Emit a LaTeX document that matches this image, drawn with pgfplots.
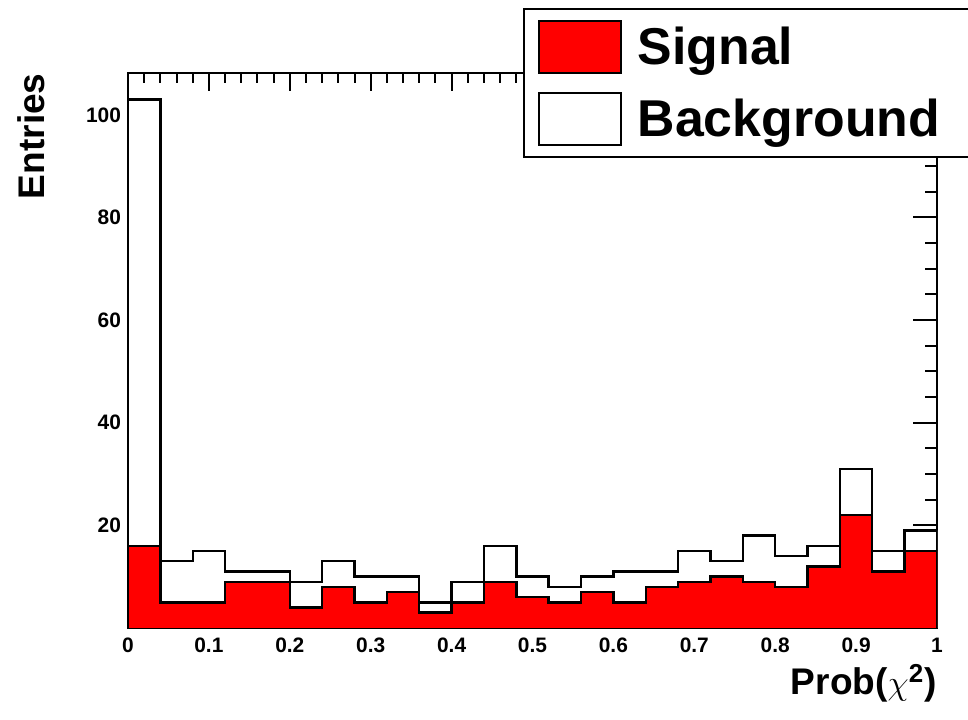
\documentclass[border=0pt]{standalone}
\usepackage{fontspec}
\setmainfont{Liberation Sans}
\usepackage{pgfplots}
\pgfplotsset{compat=1.18}
\definecolor{rootred}{RGB}{255,0,0}
\begin{document}
\begin{tikzpicture}
\path[use as bounding box] (0,0) rectangle (484bp,360bp);
\begin{axis}[
  at={(64bp,46bp)}, anchor=south west,
  scale only axis, width=404.5bp, height=277.5bp,
  xmin=0, xmax=1, ymin=0, ymax=108.15,
  xtick={0,0.1,0.2,0.3,0.4,0.5,0.6,0.7,0.8,0.9,1},
  xticklabels={0,0.1,0.2,0.3,0.4,0.5,0.6,0.7,0.8,0.9,1},
  ytick={20,40,60,80,100},
  yticklabels={20,40,60,80,100},
  minor x tick num=4,
  minor y tick num=3,
  tick align=inside,
  tick pos=both,
  xtick style={/pgfplots/major tick length=9bp,/pgfplots/minor tick length=5bp, line width=1bp, black},
  ytick style={/pgfplots/major tick length=12bp,/pgfplots/minor tick length=6bp, line width=1bp, black},
  axis line style={line width=1bp},
  tick label style={font=\fontsize{10.5}{12}\selectfont\bfseries},
  xticklabel style={yshift=-1.5bp},
  label style={font=\fontsize{18.6}{21}\selectfont\bfseries},
  xlabel={Prob(\(\chi\)\textsuperscript{2})},
  ylabel={Entries},
  xlabel style={at={(axis description cs:1,-0.1207)}, anchor=base east, inner sep=0pt},
  ylabel style={at={(axis description cs:-0.1026,1)}, anchor=base east, inner sep=0pt},
  legend image code/.code={\draw[#1] (0bp,-13bp) rectangle (41bp,13bp);},
  legend style={at={(axis description cs:0.488,1.117)}, anchor=north west,
    draw=black, line width=1bp, inner xsep=7bp, inner ysep=5.5bp, row sep=9bp,
    font=\fontsize{26}{28}\selectfont\bfseries, cells={anchor=west},
    nodes={inner ysep=0pt},
    /tikz/every odd column/.append style={column sep=6bp}},
]
% Background (total)
\addplot[const plot, fill=white, draw=none, forget plot] coordinates {
(0,103) (0.04,13) (0.08,15) (0.12,11) (0.16,11) (0.20,9) (0.24,13) (0.28,10) (0.32,10) (0.36,5)
(0.40,9) (0.44,16) (0.48,10) (0.52,8) (0.56,10) (0.60,11) (0.64,11) (0.68,15) (0.72,13) (0.76,18)
(0.80,14) (0.84,16) (0.88,31) (0.92,15) (0.96,19) (1,19)} \closedcycle;
\addplot[const plot, draw=black, line width=1.2bp, forget plot] coordinates {
(0,0) (0,103) (0.04,13) (0.08,15) (0.12,11) (0.16,11) (0.20,9) (0.24,13) (0.28,10) (0.32,10) (0.36,5)
(0.40,9) (0.44,16) (0.48,10) (0.52,8) (0.56,10) (0.60,11) (0.64,11) (0.68,15) (0.72,13) (0.76,18)
(0.80,14) (0.84,16) (0.88,31) (0.92,15) (0.96,19) (1,19) (1,0)};
% Signal
\addplot[const plot, fill=rootred, draw=none, forget plot] coordinates {
(0,16) (0.04,5) (0.08,5) (0.12,9) (0.16,9) (0.20,4) (0.24,8) (0.28,5) (0.32,7) (0.36,3)
(0.40,5) (0.44,9) (0.48,6) (0.52,5) (0.56,7) (0.60,5) (0.64,8) (0.68,9) (0.72,10) (0.76,9)
(0.80,8) (0.84,12) (0.88,22) (0.92,11) (0.96,15) (1,15)} \closedcycle;
\addplot[const plot, draw=black, line width=1.2bp, forget plot] coordinates {
(0,0) (0,16) (0.04,5) (0.08,5) (0.12,9) (0.16,9) (0.20,4) (0.24,8) (0.28,5) (0.32,7) (0.36,3)
(0.40,5) (0.44,9) (0.48,6) (0.52,5) (0.56,7) (0.60,5) (0.64,8) (0.68,9) (0.72,10) (0.76,9)
(0.80,8) (0.84,12) (0.88,22) (0.92,11) (0.96,15) (1,15) (1,0)};
\addlegendimage{fill=rootred, draw=black, line width=1bp}
\addlegendentry{Signal}
\addlegendimage{fill=white, draw=black, line width=1bp}
\addlegendentry{\makebox[160bp][l]{Background}}
\end{axis}
\end{tikzpicture}
\end{document}
